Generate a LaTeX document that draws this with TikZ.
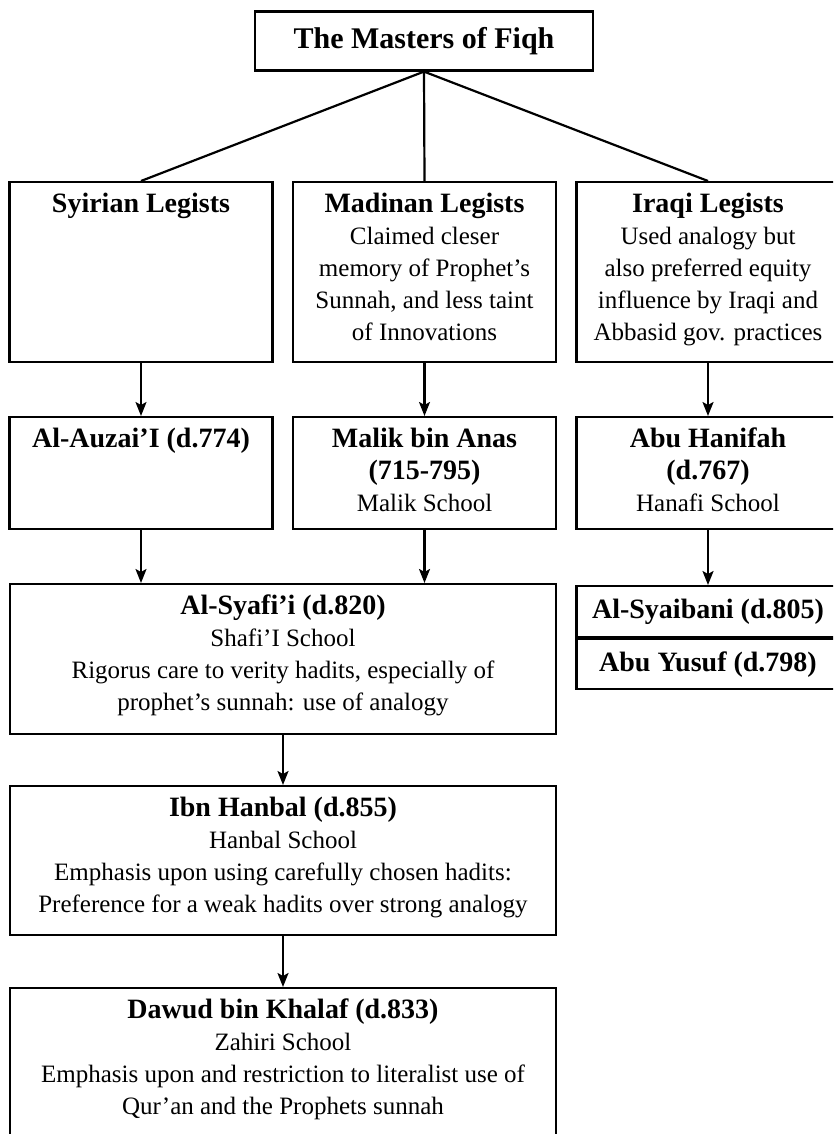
\documentclass[tikz,border=0pt]{standalone}
\usepackage{fontspec}
\setmainfont{Liberation Serif}
\usetikzlibrary{arrows.meta}

\newcommand{\hd}[1]{{\fontsize{28}{32}\selectfont\bfseries #1}}

\tikzset{
  box/.style 2 args={draw, line width=2.2pt, inner sep=0pt, anchor=north,
    font=\fontsize{25}{32}\selectfont,
    execute at begin node={\begin{minipage}[t][#1][t]{#2}\centering\rule{0pt}{30pt}},
    execute at end node={\end{minipage}}},
  namebox/.style={draw, line width=2.2pt, anchor=north, minimum width=263pt,
    font=\fontsize{28}{32}\selectfont\bfseries},
  link/.style={line width=2.2pt},
  arr/.style={line width=2.2pt, -{Stealth[length=14pt,width=11pt,inset=3pt]}},
}

\begin{document}
\begin{tikzpicture}[x=1pt,y=-1pt]
    \useasboundingbox (0,0) rectangle (833,1134);
    \clip (0,0) rectangle (833,1134);

    % top
    \node [draw, line width=2.2pt, minimum width=338pt, minimum height=59pt,
      font=\fontsize{30}{34}\selectfont\bfseries] (fiqh) at (424,41) {The Masters of Fiqh};

    % legists
    \node [box={180pt}{263pt}] (syr) at (141,181) {\hd{Syirian Legists}};
    \node [box={180pt}{263pt}] (mad) at (424.5,181) {\hd{Madinan Legists}\\
      Claimed cleser\\ memory of Prophet's\\ Sunnah, and less taint\\ of Innovations};
    \node [box={180pt}{263pt}] (iraq) at (708,181) {\hd{Iraqi Legists}\\
      Used analogy but\\ also preferred equity\\ influence by Iraqi and\\ Abbasid gov. practices};

    % masters
    \node [box={112pt}{263pt}] (auz) at (141,416) {\hd{Al-Auzai'I (d.774)}};
    \node [box={112pt}{263pt}] (malik) at (424.5,416) {\hd{Malik bin Anas}\\ \hd{(715-795)}\\ Malik School};
    \node [box={112pt}{263pt}] (hanafi) at (708,416) {\hd{Abu Hanifah}\\ \hd{(d.767)}\\ Hanafi School};

    \node [box={150pt}{546.5pt}] (syafii) at (283,583) {\hd{Al-Syafi'i (d.820)}\\ Shafi'I School\\
      Rigorus care to verity hadits, especially of\\ prophet's sunnah: use of analogy};
    \node [namebox, minimum height=51pt] (syaib) at (708,585) {Al-Syaibani (d.805)};
    \node [namebox, minimum height=50pt] (yusuf) at (syaib.south) {Abu Yusuf (d.798)};

    \node [box={149pt}{546.5pt}] (hanbal) at (283,785) {\hd{Ibn Hanbal (d.855)}\\ Hanbal School\\
      Emphasis upon using carefully chosen hadits:\\ Preference for a weak hadits over strong analogy};
    \node [box={170pt}{546.5pt}] (dawud) at (283,987) {\hd{Dawud bin Khalaf (d.833)}\\ Zahiri School\\
      Emphasis upon and restriction to literalist use of\\ Qur'an and the Prophets sunnah};

    % connectors
    \draw [link] (fiqh.south) -- (syr.north);
    \draw [link] (fiqh.south) -- (mad.north);
    \draw [link] (fiqh.south) -- (iraq.north);

    \draw [arr] (syr.south) -- (auz.north);
    \draw [arr] (mad.south) -- (malik.north);
    \draw [arr] (iraq.south) -- (hanafi.north);
    \draw [arr] (auz.south) -- (auz.south |- syafii.north);
    \draw [arr] (malik.south) -- (malik.south |- syafii.north);
    \draw [arr] (hanafi.south) -- (syaib.north);
    \draw [arr] (syafii.south) -- (hanbal.north);
    \draw [arr] (hanbal.south) -- (dawud.north);
\end{tikzpicture}
\end{document}
